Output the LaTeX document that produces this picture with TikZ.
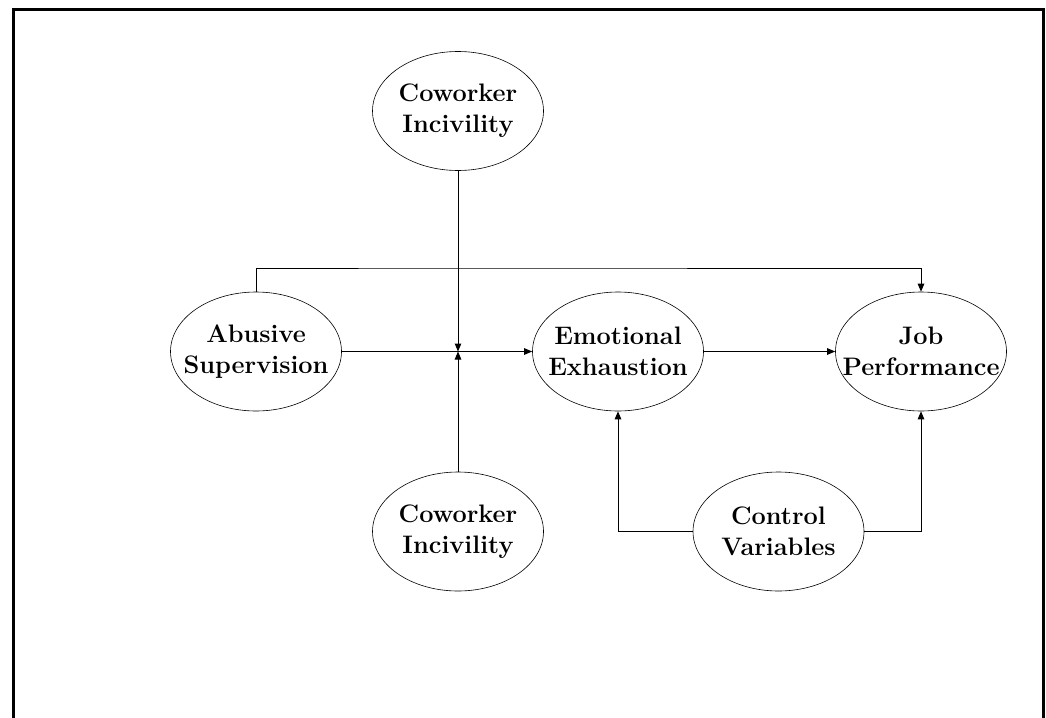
\documentclass[tikz,border=0pt]{standalone}
\usetikzlibrary{shapes.geometric,arrows.meta}
\begin{document}
\begin{tikzpicture}[x=1pt,y=-1pt,
  var/.style={draw, ellipse, line width=0.6pt, inner xsep=-25pt, inner ysep=0pt,
    minimum width=171pt, minimum height=119pt,
    align=center, font=\fontsize{25.3}{31}\selectfont\bfseries},
  conn/.style={line width=1pt, -{Triangle[length=8pt,width=6.5pt]}},
  frame/.style={line width=3pt}]
\useasboundingbox (0,0) rectangle (1046,717);
\draw[frame] (13.5,720) -- (13.5,10) -- (1043,10) -- (1043,720);
\node[var] (ci1) at (458,111) {Coworker\\Incivility};
\node[var] (as) at (256,351.5) {Abusive\\Supervision};
\node[var] (ee) at (618,351.5) {Emotional\\Exhaustion};
\node[var] (jp) at (921,351.5) {Job\\Performance};
\node[var] (ci2) at (458,531.5) {Coworker\\Incivility};
\node[var] (cv) at (778.5,531.5) {Control\\Variables};
\coordinate (m) at (458,351.5);
\draw[conn] (as.east) -- (ee.west);
\draw[conn] (ee.east) -- (jp.west);
\draw[conn] (ci1.south) -- (m);
\draw[conn] (ci2.north) -- (m);
\draw[conn] (as.north) |- (458,268) -| (jp.north);
\draw[conn] (cv.west) -| (ee.south);
\draw[conn] (cv.east) -| (jp.south);
\end{tikzpicture}
\end{document}
